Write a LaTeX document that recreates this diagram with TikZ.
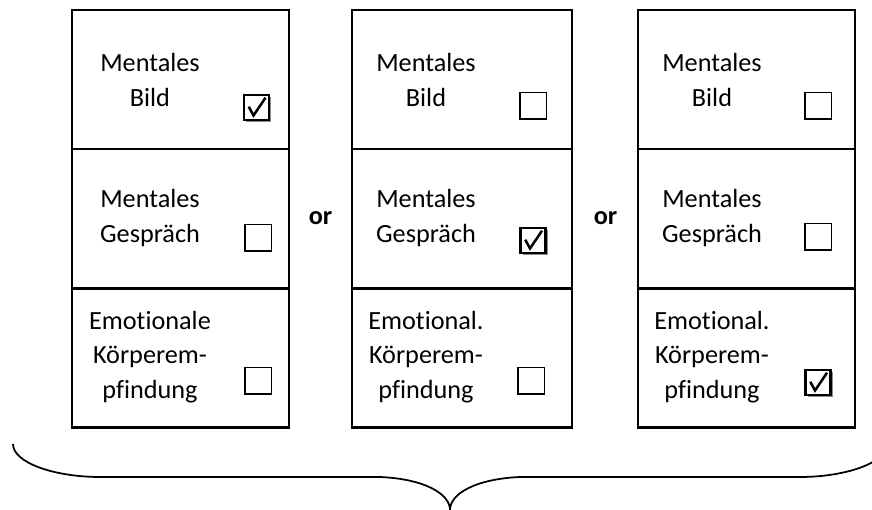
\documentclass[tikz,border=0pt]{standalone}
\usepackage{fontspec}
\setmainfont[Ligatures={NoCommon}]{Carlito}
\usetikzlibrary{calc}

\begin{document}
\begin{tikzpicture}[x=0.4pt, y=-0.4pt,
    cell/.style={draw, line width=0.9pt, minimum width=87pt, minimum height=55.6pt, inner sep=0pt},
    txt/.style={align=center, inner sep=0pt, font=\fontsize{10.5}{13.9}\selectfont},
    emptybox/.style={draw, line width=0.6pt, minimum size=10.6pt, inner sep=0pt},
    tickbox/.style={draw, line width=0.9pt, fill=white, minimum size=10pt, inner sep=0pt,
        path picture={\draw[line width=1pt]
            ($(path picture bounding box.center)+(-3.1pt,0.3pt)$) --
            ($(path picture bounding box.center)+(-1.2pt,-3.2pt)$) --
            ($(path picture bounding box.center)+(3.6pt,3.9pt)$);}},
    shadow/.style={fill=black!45, minimum size=10pt, inner sep=0pt},
    ortxt/.style={font=\fontsize{10.5}{12}\selectfont\bfseries}]
    \useasboundingbox (0,0) rectangle (872,510);

    % Column 1
    \node[cell] (a1) at (180.5,79.5) {};
    \node[cell] (a2) at (180.5,218.5) {};
    \node[cell] (a3) at (180.5,358) {};
    \node[txt] (a1t) at (150,80) {Mentales\\Bild};
    \node[txt] (a2t) at (150,218) {Mentales\\Gespräch};
    \node[txt] (a3t) at (150,357) {Emotionale\\Körperem-\\pfindung};
    \node[shadow] (a1s) at (258.5,109.5) {};
    \node[tickbox] (a1c) at (256.5,107.5) {};
    \node[emptybox] (a2c) at (258,238) {};
    \node[emptybox] (a3c) at (258,381) {};

    % or
    \node[ortxt] (or1) at (320.5,218) {or};

    % Column 2
    \node[cell, minimum width=88pt] (b1) at (462,79.5) {};
    \node[cell, minimum width=88pt] (b2) at (462,218.5) {};
    \node[cell, minimum width=88pt] (b3) at (462,358) {};
    \node[txt] (b1t) at (426,80) {Mentales\\Bild};
    \node[txt] (b2t) at (426,218) {Mentales\\Gespräch};
    \node[txt] (b3t) at (426,357) {Emotional.\\Körperem-\\pfindung};
    \node[emptybox] (b1c) at (533,106) {};
    \node[shadow] (b2s) at (535,242.5) {};
    \node[tickbox] (b2c) at (533,240.5) {};
    \node[emptybox] (b3c) at (531,381) {};

    % or
    \node[ortxt] (or2) at (605.5,218) {or};

    % Column 3
    \node[cell] (c1) at (746.5,79.5) {};
    \node[cell] (c2) at (746.5,218.5) {};
    \node[cell] (c3) at (746.5,358) {};
    \node[txt] (c1t) at (712,80) {Mentales\\Bild};
    \node[txt] (c2t) at (712,218) {Mentales\\Gespräch};
    \node[txt] (c3t) at (712,357) {Emotional.\\Körperem-\\pfindung};
    \node[emptybox] (c1c) at (818,106) {};
    \node[emptybox] (c2c) at (818,237) {};
    \node[shadow] (c3s) at (820,384.5) {};
    \node[tickbox] (c3c) at (818,382.5) {};

    % Brace
    \coordinate (braceL) at (13,444);
    \coordinate (braceTip) at (450,510);
    \coordinate (braceR) at (887,444);
    \draw[line width=0.7pt] (braceL) .. controls (13,463) and (55,477) .. (100,477)
        -- (380,477) .. controls (425,479) and (450,494) .. (braceTip)
        .. controls (450,494) and (475,479) .. (520,477)
        -- (800,477) .. controls (845,477) and (887,463) .. (braceR);
\end{tikzpicture}
\end{document}
